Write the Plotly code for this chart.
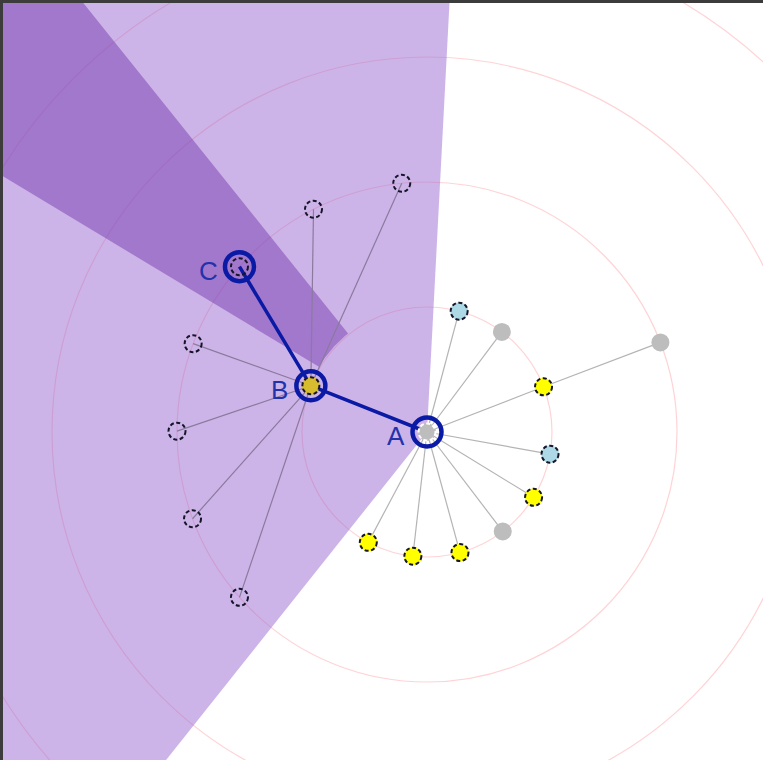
import math
import plotly.graph_objects as go

# Search tree around root A: each node has a ring level (hops from A),
# a bearing in degrees measured from A, a parent and a state
node_ids = ["A", "B", "C",
            "a1", "a2", "a3", "a4", "a5", "a6", "a7", "a8", "a9", "a10",
            "b1", "b2", "b3", "b4", "b5", "b6"]
node_level = [0, 1, 2,
              1, 1, 1, 1, 1, 1, 1, 1, 1, 2,
              2, 2, 2, 2, 2, 2]
node_angle = [0, 158.3, 138.6,
              75.1, 53.2, 21.2, -10.2, -31.5, -52.7, -74.7, -96.5, -118.0, 21.0,
              95.8, 117.0, 159.3, 179.8, 200.3, 221.4]
node_parent = [None, "A", "B",
               "A", "A", "A", "A", "A", "A", "A", "A", "A", "a3",
               "B", "B", "B", "B", "B", "B"]
node_state = ["grey", "found", "open",
              "blue", "grey", "yellow", "blue", "yellow", "grey", "yellow", "yellow", "yellow", "grey",
              "open", "open", "open", "open", "open", "open"]

path_nodes = ["A", "B", "C"]
ring_levels = [1, 2, 3, 4]

# search sectors: centre bearing, half width (deg), inner ring level
wedge_centre = [159.25, 138.8]
wedge_half = [72.25, 10.1]
wedge_inner = [0, 1.01]

R = 125  # pixels per ring level
BLUE = "#0b1aa5"

pos = {}
for nid, lv, ang in zip(node_ids, node_level, node_angle):
    t = math.radians(ang)
    pos[nid] = (lv * R * math.cos(t), lv * R * math.sin(t))

fig = go.Figure()

# wedges
wedge_fill = ["rgba(155,105,210,0.5)", "rgba(120,60,175,0.5)"]
for c, h, inner, col in zip(wedge_centre, wedge_half, wedge_inner, wedge_fill):
    a0, a1 = c - h, c + h
    steps = 80
    outer = [(5 * R * math.cos(math.radians(a0 + (a1 - a0) * i / steps)),
              5 * R * math.sin(math.radians(a0 + (a1 - a0) * i / steps))) for i in range(steps + 1)]
    inn = [(inner * R * math.cos(math.radians(a1 - (a1 - a0) * i / steps)),
            inner * R * math.sin(math.radians(a1 - (a1 - a0) * i / steps))) for i in range(steps + 1)]
    pts = outer + inn
    fig.add_trace(go.Scatter(x=[p[0] for p in pts], y=[p[1] for p in pts], mode="lines",
                             fill="toself", fillcolor=col, line=dict(width=0),
                             hoverinfo="skip", showlegend=False))

# edges
for nid, par in zip(node_ids, node_parent):
    if par is None:
        continue
    if nid in path_nodes and par in path_nodes:
        continue
    col = "#8a7a9e" if par == "B" else "#b4b4b4"
    fig.add_trace(go.Scatter(x=[pos[par][0], pos[nid][0]], y=[pos[par][1], pos[nid][1]],
                             mode="lines", line=dict(color=col, width=1.2),
                             hoverinfo="skip", showlegend=False))

fig.add_trace(go.Scatter(x=[pos[n][0] for n in path_nodes], y=[pos[n][1] for n in path_nodes],
                         mode="lines", line=dict(color=BLUE, width=3.5),
                         hoverinfo="skip", showlegend=False))

# node fills
fill_map = {"blue": "#add8e6", "yellow": "#ffff00", "grey": "#bdbdbd",
            "open": "rgba(0,0,0,0)", "found": "#d6bc2e"}
fig.add_trace(go.Scatter(
    x=[pos[n][0] for n in node_ids], y=[pos[n][1] for n in node_ids],
    mode="markers",
    marker=dict(size=18, color=[fill_map[s] for s in node_state], line=dict(width=0)),
    text=node_ids, hoverinfo="text", showlegend=False))

shapes = []
for lv in ring_levels:
    r = lv * R
    shapes.append(dict(type="circle", xref="x", yref="y", x0=-r, x1=r, y0=-r, y1=r,
                       line=dict(color="rgba(255,110,120,0.3)", width=1.2), layer="below"))

for nid, st in zip(node_ids, node_state):
    x, y = pos[nid]
    if nid == "A":
        col = "white"
    elif st == "grey":
        continue
    else:
        col = "#15152a"
    shapes.append(dict(type="circle", xref="x", yref="y", x0=x - 8.5, x1=x + 8.5,
                       y0=y - 8.5, y1=y + 8.5, layer="above",
                       line=dict(color=col, width=2, dash="4px,2.5px")))

for nid in path_nodes:
    x, y = pos[nid]
    shapes.append(dict(type="circle", xref="x", yref="y", x0=x - 14.5, x1=x + 14.5,
                       y0=y - 14.5, y1=y + 14.5, layer="above",
                       line=dict(color=BLUE, width=4.5)))

annotations = []
for nid in path_nodes:
    x, y = pos[nid]
    annotations.append(dict(x=x - 31, y=y - 4, xref="x", yref="y", text=nid, showarrow=False,
                            font=dict(family="Liberation Sans, Arial", size=26, color="#2232ab"),
                            xanchor="center", yanchor="middle"))

fig.update_layout(
    width=763, height=760,
    margin=dict(l=3, t=3, r=0, b=0),
    paper_bgcolor="#3c3c3c",
    plot_bgcolor="white",
    xaxis=dict(range=[-424, 336], visible=False, fixedrange=True),
    yaxis=dict(range=[-328, 429], visible=False, fixedrange=True),
    shapes=shapes,
    annotations=annotations,
    showlegend=False,
)

fig.write_html("out.html", config={"displayModeBar": False},
               post_script="document.body.style.margin='0';")
